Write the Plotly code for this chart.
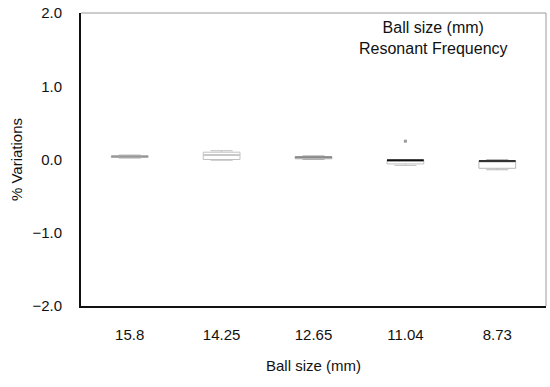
import plotly.graph_objects as go

# Ball sizes (mm) shown as categories along the x axis
ball_sizes = ["15.8", "14.25", "12.65", "11.04", "8.73"]

# Box statistics of the resonant-frequency variation (%)
q1 = [0.03, 0.00, 0.01, -0.06, -0.12]
median = [0.04, 0.06, 0.03, -0.01, -0.02]
q3 = [0.05, 0.10, 0.04, -0.01, -0.02]
lower = [0.02, -0.01, 0.00, -0.08, -0.14]
upper = [0.06, 0.12, 0.05, -0.01, 0.00]

# Single outlier above the 11.04 mm box
outlier_x = ["11.04"]
outlier_y = [0.25]

# Median line colour for each box
median_colors = ["#9a9a9a", "#c8c8c8", "#8a8a8a", "#111111", "#333333"]
box_colors = ["#b0b0b0", "#c0c0c0", "#b0b0b0", "#c0c0c0", "#b8b8b8"]

y_ticks = [2.0, 1.0, 0.0, -1.0, -2.0]
y_tick_text = ["2.0", "1.0", "0.0", "\u22121.0", "\u22122.0"]

FONT = "Liberation Sans, Arial, sans-serif"

fig = go.Figure()

for i, cat in enumerate(ball_sizes):
    fig.add_trace(go.Box(
        x=[cat],
        q1=[q1[i]], median=[median[i]], q3=[q3[i]],
        lowerfence=[lower[i]], upperfence=[upper[i]],
        width=0.4,
        line=dict(color=box_colors[i], width=1),
        fillcolor="rgba(0,0,0,0)",
        whiskerwidth=0.6,
        boxpoints=False,
        showlegend=False,
        hoverinfo="skip",
    ))
    # Median bar drawn over the box
    fig.add_trace(go.Box(
        x=[cat],
        q1=[median[i]], median=[median[i]], q3=[median[i]],
        lowerfence=[median[i]], upperfence=[median[i]],
        width=0.4,
        line=dict(color=median_colors[i], width=2),
        fillcolor="rgba(0,0,0,0)",
        boxpoints=False,
        showlegend=False,
        hoverinfo="skip",
    ))

fig.add_trace(go.Scatter(
    x=outlier_x, y=outlier_y, mode="markers",
    marker=dict(symbol="square", size=3, color="#9a9a9a"),
    showlegend=False, hoverinfo="skip",
))

# Thin grey top and right edges of the frame
fig.add_shape(type="line", xref="paper", yref="paper", x0=0, x1=1, y0=1, y1=1,
              line=dict(color="#9a9a9a", width=1))
fig.add_shape(type="line", xref="paper", yref="paper", x0=1, x1=1, y0=0, y1=1,
              line=dict(color="#9a9a9a", width=1))

fig.add_annotation(
    xref="paper", yref="paper", x=0.757, y=0.985, xanchor="center", yanchor="top",
    text="Ball size (mm)<br>Resonant Frequency", showarrow=False, align="center",
    font=dict(family=FONT, size=16, color="#111111"),
)

fig.update_layout(
    width=550, height=387,
    margin=dict(l=81, r=4, t=9, b=81),
    paper_bgcolor="white", plot_bgcolor="white",
    font=dict(family=FONT, size=15, color="#111111"),
    xaxis=dict(
        type="category", categoryorder="array", categoryarray=ball_sizes,
        range=[-0.53, 4.53],
        showgrid=False, zeroline=False,
        showline=True, linecolor="#111111", linewidth=2,
        ticks="outside", ticklen=14, tickcolor="rgba(0,0,0,0)",
        title=dict(text="Ball size (mm)", standoff=18, font=dict(size=15)),
    ),
    yaxis=dict(
        range=[-2.0, 2.0],
        tickvals=y_ticks, ticktext=y_tick_text,
        showgrid=False, zeroline=False,
        showline=True, linecolor="#111111", linewidth=2,
        ticks="outside", ticklen=14, tickcolor="rgba(0,0,0,0)",
        title=dict(text="% Variations", standoff=6, font=dict(size=15)),
    ),
)

fig.write_html("out.html")
